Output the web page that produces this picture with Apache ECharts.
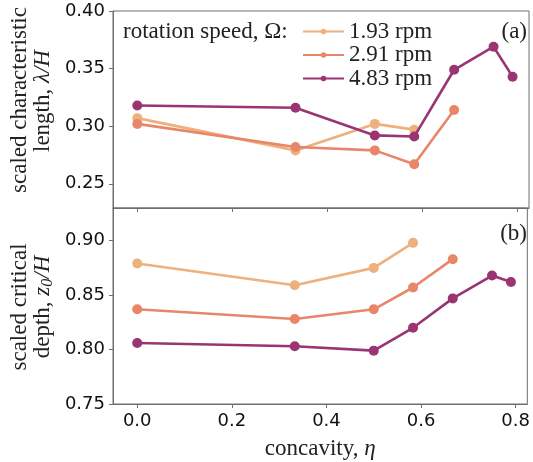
<!DOCTYPE html>
<html>
<head>
<meta charset="utf-8">
<script src="https://cdn.jsdelivr.net/npm/echarts@6/dist/echarts.min.js"></script>
<style>html,body{margin:0;padding:0;background:#fff}#c{width:533px;height:462px}</style>
</head>
<body>
<div id="c"></div>
<script>
// ---- data ----
const eta = [0, 0.333, 0.5, 0.583, 0.667, 0.75, 0.79];
const seriesNames = ['1.93 rpm', '2.91 rpm', '4.83 rpm'];
const lambda193 = [0.307, 0.279, 0.302, 0.297];
const lambda291 = [0.302, 0.282, 0.279, 0.267, 0.314];
const lambda483 = [0.318, 0.316, 0.292, 0.291, 0.349, 0.369, 0.343];
const z193 = [0.879, 0.859, 0.875, 0.898];
const z291 = [0.837, 0.828, 0.837, 0.857, 0.883];
const z483 = [0.806, 0.803, 0.799, 0.820, 0.847, 0.868, 0.862];
const xTicks = [0, 0.2, 0.4, 0.6, 0.8];
const yTicksTop = [0.25, 0.30, 0.35, 0.40];
const yTicksBottom = [0.75, 0.80, 0.85, 0.90];

// ---- style ----
const colors = ['#EEB07D', '#E8866A', '#9A3472'];
const serif = 'Liberation Serif';
const sans = 'DejaVu Sans';
const spine = '#6e6e6e';
const FS = 23;
const txt = '#222';

function pairs(vals) { return vals.map((v, i) => [eta[i], v]); }

const chart = echarts.init(document.getElementById('c'), null, {renderer: 'canvas'});

const rich = {
  t: {fontFamily: serif, fontSize: FS, fill: txt, color: txt},
  i: {fontFamily: serif, fontStyle: 'italic', fontSize: FS, fill: txt, color: txt},
  s: {fontFamily: serif, fontStyle: 'italic', fontSize: 16, fill: txt, color: txt, padding: [10, 0, 0, 0]}
};

function xAxisCfg(gridIndex, showLabels) {
  return {
    type: 'value', gridIndex: gridIndex, min: -0.0512, max: 0.8246,
    axisLine: {show: true, onZero: false, lineStyle: {color: spine, width: 1}},
    axisTick: {show: true, length: 4, inside: false, customValues: xTicks, lineStyle: {color: spine}},
    axisLabel: {show: showLabels, customValues: xTicks, margin: 8, fontFamily: sans, fontSize: 18, color: '#111',
      formatter: v => v.toFixed(1)},
    splitLine: {show: false}
  };
}
function yAxisCfg(gridIndex, mn, mx, ticks) {
  return {
    type: 'value', gridIndex: gridIndex, min: mn, max: mx,
    axisLine: {show: true, onZero: false, lineStyle: {color: spine, width: 1}},
    axisTick: {show: true, length: 4, customValues: ticks, lineStyle: {color: spine}},
    axisLabel: {customValues: ticks, margin: 8, fontFamily: sans, fontSize: 18, color: '#111',
      formatter: v => v.toFixed(2)},
    splitLine: {show: false}
  };
}

const series = [];
const topData = [lambda193, lambda291, lambda483];
const botData = [z193, z291, z483];
[topData, botData].forEach((set, gi) => {
  set.forEach((vals, k) => {
    series.push({
      type: 'line', name: seriesNames[k], xAxisIndex: gi, yAxisIndex: gi,
      data: pairs(vals), symbol: 'circle', symbolSize: 10, showSymbol: true,
      lineStyle: {width: 2.6, color: colors[k]}, itemStyle: {color: colors[k]},
      emphasis: {disabled: true}, animation: false, z: 2 + k
    });
  });
});

function vtext(x, y, text) {
  return {type: 'text', x: x, y: y, rotation: Math.PI / 2,
    style: {text: text, rich: rich, align: 'center', verticalAlign: 'middle', font: FS + 'px "Liberation Serif"', fill: txt}};
}

chart.setOption({
  animation: false,
  grid: [
    {left: 113, right: 4, top: 11, height: 197, show: true, borderColor: spine, borderWidth: 1, backgroundColor: 'transparent', containLabel: false},
    {left: 113, right: 4, top: 208, height: 196, show: true, borderColor: spine, borderWidth: 1, backgroundColor: 'transparent', containLabel: false}
  ],
  xAxis: [
    xAxisCfg(0, false),
    Object.assign(xAxisCfg(1, true), {
      name: '{t|concavity, }{i|η}', nameLocation: 'middle', nameGap: 33,
      nameTextStyle: {fontFamily: serif, fontSize: FS, color: txt, rich: rich}
    })
  ],
  yAxis: [
    yAxisCfg(0, 0.229, 0.40, yTicksTop),
    yAxisCfg(1, 0.75, 0.930, yTicksBottom)
  ],
  legend: {
    data: seriesNames, orient: 'vertical', left: 302, top: 20, padding: 0,
    itemWidth: 41, itemHeight: 7, itemGap: 0.5, selectedMode: false,
    textStyle: {fontFamily: serif, fontSize: FS, color: txt, lineHeight: 23}
  },
  graphic: [
    {type: 'text', left: 123, top: 20, style: {text: 'rotation speed, Ω:', font: FS + 'px "Liberation Serif"', fill: txt}},
    {type: 'text', right: 6, top: 20, style: {text: '(a)', font: FS + 'px "Liberation Serif"', fill: txt}},
    {type: 'text', right: 6, top: 222, style: {text: '(b)', font: FS + 'px "Liberation Serif"', fill: txt}},
    vtext(20, 100, '{t|scaled characteristic}'),
    vtext(43, 101, '{t|length, }{i|λ/H}'),
    vtext(20, 307, '{t|scaled critical}'),
    vtext(43, 307, '{t|depth, }{i|z}{s|0}{i|/H}')
  ],
  series: series
});
</script>
</body>
</html>
